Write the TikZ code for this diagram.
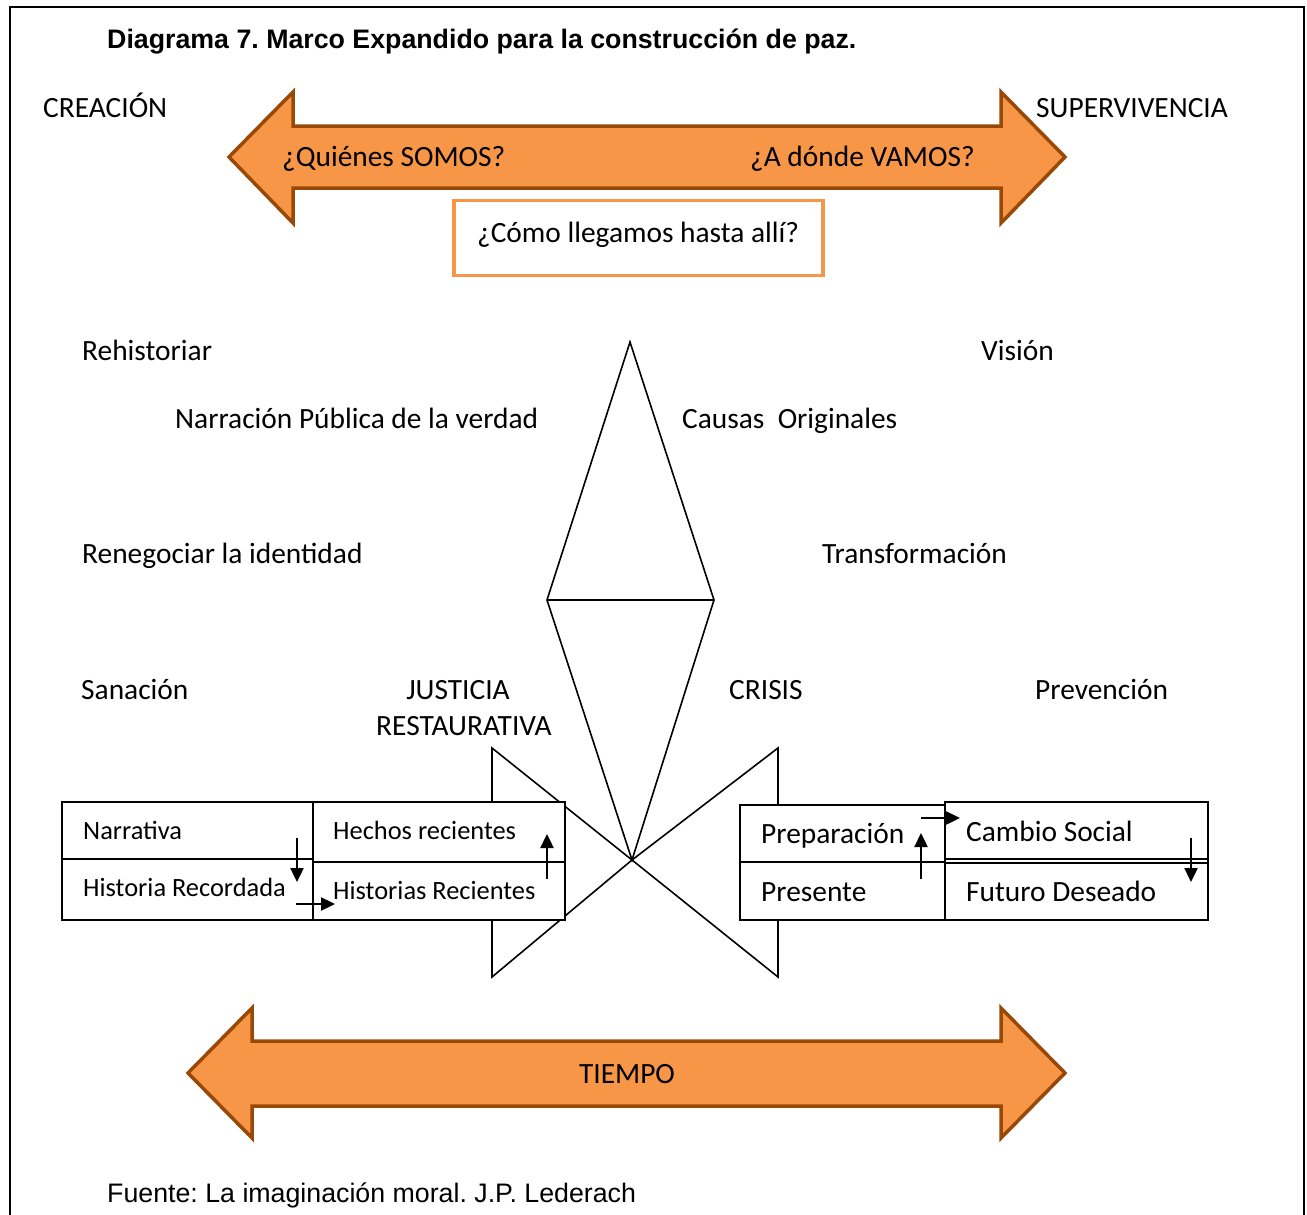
\documentclass[tikz,border=0pt]{standalone}
\usepackage{fontspec}
\setmainfont{Carlito}
\newfontfamily\arialfont{Liberation Sans}
\usetikzlibrary{arrows.meta}
\definecolor{orfill}{HTML}{F79646}
\definecolor{orline}{HTML}{984807}
\frenchspacing
\tikzset{
  lbl/.style={anchor=base west, inner sep=0pt, yshift=-9.5pt, font=\fontsize{29.4}{34}\selectfont},
  lblc/.style={anchor=base, inner sep=0pt, yshift=-9.5pt, font=\fontsize{29.4}{34}\selectfont},
  sml/.style={anchor=base west, inner sep=0pt, yshift=-8.5pt, font=\fontsize{26.4}{30}\selectfont},
  arialtxt/.style={anchor=base west, inner sep=0pt, yshift=-9.5pt, font=\arialfont\fontsize{26.75}{30}\selectfont},
  bigarrow/.style={fill=orfill, draw=orline, line width=3.5pt, line join=miter},
  thin/.style={draw=black, line width=1.6pt},
  cell/.style={draw=black, fill=white, line width=1.6pt},
  smallarrow/.style={draw=black, line width=2.4pt, -{Triangle[length=14pt,width=13pt]}}
}
\begin{document}
\begin{tikzpicture}[x=1pt,y=-1pt]
\useasboundingbox (0,0) rectangle (1307,1215);
% frame
\draw[line width=2pt] (10,1220) -- (10,7) -- (1304,7) -- (1304,1220);

% title
\node[arialtxt, font=\arialfont\bfseries\fontsize{26.75}{30}\selectfont] (title) at (107,39) {Diagrama 7. Marco Expandido para la construcción de paz.};

% top double arrow
\draw[bigarrow] (229,157) -- (293,92) -- (293,126) -- (1001,126) -- (1001,92) -- (1065,157) -- (1001,223) -- (1001,188) -- (293,188) -- (293,223) -- cycle;
\node[lbl] (creacion) at (43,108) {CREACIÓN};
\node[lbl] (superv) at (1036,108) {SUPERVIVENCIA};
\node[lbl] (quienes) at (282,157) {¿Quiénes SOMOS?};
\node[lbl] (adonde) at (750,157) {¿A dónde VAMOS?};

% box
\node[draw=orfill, line width=3.5pt, minimum width=369pt, minimum height=75pt, inner sep=0pt] (como) at (638.5,238) {};
\node[lbl] (comotxt) at (477,233) {¿Cómo llegamos hasta allí?};

% labels
\node[lbl] (rehist) at (82,351) {Rehistoriar};
\node[lbl] (vision) at (981,351) {Visión};
\node[lbl] (narr) at (175,419) {Narración Pública de la verdad};
\node[lbl] (causas) at (682,419) {Causas\ \ Originales};
\node[lbl] (reneg) at (82,554) {Renegociar la identidad};
\node[lbl] (transf) at (822,554) {Transformación};
\node[lbl] (sanac) at (81,690) {Sanación};
\node[lblc] (just) at (458,690) {JUSTICIA};
\node[lblc] (restaur) at (464,726) {RESTAURATIVA};
\node[lbl] (crisis) at (729,690) {CRISIS};
\node[lbl] (prev) at (1035,690) {Prevención};

% diamond
\coordinate (dtop) at (630,342);
\coordinate (dleft) at (547,600);
\coordinate (dright) at (714,600);
\coordinate (cross) at (632,860);
\draw[thin, line join=miter] (dtop) -- (dright) -- (cross) -- (dleft) -- cycle;
\draw[thin] (dleft) -- (dright);

% arrow heads (bow tie)
\draw[thin, line join=miter] (492,748) -- (cross) -- (492,977) -- cycle;
\draw[thin, line join=miter] (778,748) -- (cross) -- (778,977) -- cycle;

% left boxes
\draw[cell] (62,802) rectangle (313,920);
\draw[thin] (62,859) -- (313,859);
\draw[cell] (313,802) rectangle (565,920);
\draw[thin] (313,862) -- (565,862);
\node[sml] (narrativa) at (83,831) {Narrativa};
\node[sml] (histrec) at (83,888) {Historia Recordada};
\node[sml] (hechos) at (333,831) {Hechos recientes};
\node[sml] (histrecs) at (333,891) {Historias Recientes};

% right boxes
\draw[cell] (740,805) rectangle (945,920);
\draw[thin] (740,862) -- (945,862);
\draw[cell] (945,802) rectangle (1208,920);
\draw[thin] (945,859) -- (1208,859);
\draw[thin] (945,863) -- (1208,863);
\node[lbl] (prep) at (761,834) {Preparación};
\node[lbl] (pres) at (761,892) {Presente};
\node[lbl] (cambio) at (966,832) {Cambio Social};
\node[lbl] (futuro) at (966,892) {Futuro Deseado};

% small arrows
\coordinate (a1s) at (297,838); \coordinate (a1e) at (297,882);
\coordinate (a2s) at (296,904); \coordinate (a2e) at (335,904);
\coordinate (a3s) at (547,879); \coordinate (a3e) at (547,834);
\coordinate (a4s) at (921,879); \coordinate (a4e) at (921,833);
\coordinate (a5s) at (921,818); \coordinate (a5e) at (960,818);
\coordinate (a6s) at (1191,838); \coordinate (a6e) at (1191,882);
\draw[smallarrow] (a1s) -- (a1e);
\draw[smallarrow] (a2s) -- (a2e);
\draw[smallarrow] (a3s) -- (a3e);
\draw[smallarrow] (a4s) -- (a4e);
\draw[smallarrow] (a5s) -- (a5e);
\draw[smallarrow] (a6s) -- (a6e);

% bottom double arrow
\draw[bigarrow] (188,1073) -- (252,1008) -- (252,1041) -- (1001,1041) -- (1001,1008) -- (1065,1073) -- (1001,1138) -- (1001,1106) -- (252,1106) -- (252,1138) -- cycle;
\node[lblc] (tiempo) at (627,1074) {TIEMPO};

% source
\node[arialtxt] (fuente) at (107,1193) {Fuente: La imaginación moral. J.P. Lederach};
\end{tikzpicture}
\end{document}
